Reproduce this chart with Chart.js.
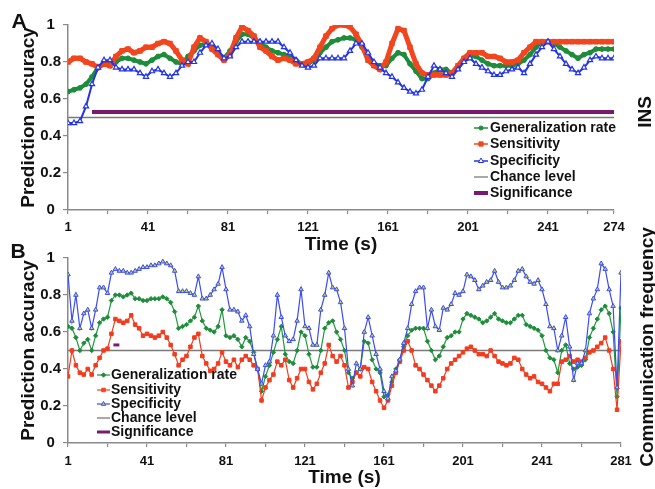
<!DOCTYPE html>
<html>
<head>
<meta charset="utf-8">
<title>Prediction accuracy over time</title>
<script src="https://cdn.jsdelivr.net/npm/chart.js@4.4.1/dist/chart.umd.min.js"></script>
<style>
  body { margin: 0; background: #fff; width: 655px; height: 489px; overflow: hidden; position: relative;
         font-family: Arial, "Liberation Sans", Helvetica, sans-serif; }
  canvas { position: absolute; left: 0; }
  #chartA { top: 0; }
  #chartB { top: 240px; }
  .lbl { position: absolute; font-weight: bold; color: #111; white-space: nowrap; transform: translate(-50%, -50%); }
  .rot { transform: translate(-50%, -50%) rotate(-90deg); }
</style>
</head>
<body>
<canvas id="chartA" width="655" height="256"></canvas>
<canvas id="chartB" width="655" height="249"></canvas>
<div class="lbl" style="left:19px;top:21px;font-size:21px">A</div>
<div class="lbl" style="left:18px;top:251px;font-size:21px">B</div>
<div class="lbl rot" style="left:645px;top:112px;font-size:19px">INS</div>
<div class="lbl rot" style="left:647px;top:347px;font-size:19px">Communication frequency</div>

<script>
// ---- data: panel A (INS) ----
const timeA = [1,4,7,10,13,16,19,22,25,28, 31,34,37,40,43,46,49,52,55,58,
  61,64,67,70,73,76,79,82,85,88, 91,94,97,100,103,106,109,112,115,118,
  121,124,127,130,133,136,139,142,145,148, 151,154,157,160,163,166,169,172,175,178,
  181,184,187,190,193,196,199,202,205,208, 211,214,217,220,223,226,229,232,235,238,
  241,244,247,250,253,256,259,262,265,268, 271,274];
const generalizationA = [0.64,0.65,0.66,0.68,0.72,0.77,0.79,0.79,0.80,0.82,
  0.82,0.81,0.80,0.79,0.81,0.83,0.84,0.82,0.80,0.79, 0.83,0.86,0.89,0.90,0.88,0.85,0.82,0.86,0.91,0.95,
  0.95,0.93,0.90,0.88,0.86,0.85,0.84,0.83,0.81,0.79, 0.79,0.81,0.85,0.88,0.91,0.92,0.93,0.93,0.92,0.88,
  0.83,0.79,0.78,0.78,0.82,0.85,0.84,0.79,0.75,0.71, 0.71,0.74,0.76,0.76,0.74,0.77,0.81,0.83,0.83,0.81,
  0.79,0.78,0.78,0.78,0.78,0.79,0.81,0.84,0.88,0.91, 0.91,0.90,0.88,0.86,0.84,0.82,0.84,0.85,0.87,0.87,
  0.87,0.87];
const sensitivityA = [0.80,0.82,0.82,0.80,0.79,0.77,0.79,0.78,0.83,0.86,
  0.87,0.85,0.86,0.88,0.88,0.90,0.91,0.90,0.86,0.81, 0.79,0.88,0.93,0.91,0.87,0.84,0.81,0.84,0.93,0.99,
  0.97,0.94,0.88,0.86,0.83,0.81,0.82,0.81,0.79,0.79, 0.80,0.82,0.88,0.94,0.98,1.00,1.00,0.99,0.95,0.89,
  0.81,0.78,0.76,0.80,0.90,0.98,0.97,0.88,0.79,0.74, 0.73,0.73,0.73,0.73,0.74,0.78,0.82,0.85,0.85,0.85,
  0.83,0.83,0.82,0.80,0.80,0.81,0.85,0.88,0.91,0.91, 0.91,0.91,0.91,0.91,0.91,0.91,0.91,0.91,0.91,0.91,
  0.91,0.91];
const specificityA = [0.47,0.47,0.48,0.56,0.68,0.77,0.81,0.81,0.77,0.76,
  0.76,0.76,0.74,0.72,0.75,0.76,0.74,0.72,0.74,0.78, 0.80,0.80,0.85,0.89,0.90,0.87,0.82,0.83,0.88,0.91,
  0.91,0.91,0.91,0.91,0.91,0.91,0.88,0.85,0.81,0.78, 0.77,0.78,0.82,0.82,0.82,0.82,0.82,0.86,0.90,0.90,
  0.85,0.80,0.77,0.74,0.72,0.69,0.66,0.64,0.63,0.65, 0.72,0.78,0.76,0.74,0.72,0.76,0.80,0.82,0.79,0.77,
  0.75,0.73,0.73,0.75,0.76,0.77,0.74,0.79,0.84,0.88, 0.91,0.87,0.83,0.79,0.76,0.74,0.77,0.81,0.83,0.82,
  0.82,0.82];
const chanceTimeA = [1, 274];
const chanceA = [0.5, 0.5];
const significanceTimeA = [13, 274];
const significanceA = [0.53, 0.53];
const tickValsA = [1,21,41,61,81,101,121,141,161,181,201,221,241,261,274];
const tickLabelsA = ['1','','41','','81','','121','','161','','201','','241','','274'];

// ---- data: panel B (communication frequency) ----
const timeB = [1,3,5,7,9,11,13,15,17,19, 21,23,25,27,29,31,33,35,37,39,
  41,43,45,47,49,51,53,55,57,59, 61,63,65,67,69,71,73,75,77,79,
  81,83,85,87,89,91,93,95,97,99, 101,103,105,107,109,111,113,115,117,119,
  121,123,125,127,129,131,133,135,137,139, 141,143,145,147,149,151,153,155,157,159,
  161,163,165,167,169,171,173,175,177,179, 181,183,185,187,189,191,193,195,197,199,
  201,203,205,207,209,211,213,215,217,219, 221,223,225,227,229,231,233,235,237,239,
  241,243,245,247,249,251,253,255,257,259, 261,263,265,267,269,271,273,275,277,279, 281];
const generalizationB = [0.63,0.62,0.57,0.50,0.54,0.56,0.50,0.58,0.65,0.67,
  0.68,0.77,0.80,0.80,0.79,0.80,0.81,0.78,0.78,0.77, 0.77,0.78,0.78,0.78,0.79,0.78,0.76,0.71,0.62,0.63,
  0.64,0.66,0.68,0.74,0.66,0.62,0.61,0.60,0.63,0.72, 0.58,0.57,0.58,0.56,0.52,0.57,0.55,0.49,0.40,0.28,
  0.36,0.42,0.49,0.56,0.63,0.48,0.44,0.43,0.50,0.60, 0.58,0.48,0.41,0.41,0.50,0.62,0.65,0.66,0.60,0.56,
  0.50,0.38,0.35,0.38,0.40,0.55,0.54,0.45,0.40,0.38, 0.25,0.26,0.33,0.40,0.45,0.52,0.58,0.61,0.62,0.62,
  0.62,0.55,0.50,0.45,0.47,0.52,0.57,0.58,0.60,0.60, 0.67,0.70,0.69,0.68,0.67,0.65,0.66,0.68,0.70,0.67,
  0.66,0.65,0.65,0.67,0.69,0.69,0.64,0.63,0.62,0.61, 0.58,0.50,0.46,0.45,0.38,0.50,0.53,0.43,0.40,0.41,
  0.42,0.45,0.57,0.62,0.67,0.72,0.74,0.70,0.60,0.25, 0.73];
const sensitivityB = [0.36,0.50,0.42,0.38,0.37,0.40,0.37,0.42,0.46,0.50,
  0.51,0.59,0.67,0.66,0.65,0.66,0.69,0.64,0.62,0.58, 0.59,0.58,0.57,0.58,0.60,0.57,0.53,0.48,0.42,0.45,
  0.47,0.52,0.57,0.59,0.47,0.43,0.39,0.40,0.43,0.49, 0.44,0.42,0.45,0.41,0.45,0.47,0.45,0.42,0.40,0.23,
  0.30,0.34,0.37,0.44,0.42,0.45,0.34,0.30,0.35,0.40, 0.40,0.33,0.29,0.32,0.38,0.43,0.53,0.47,0.44,0.47,
  0.42,0.30,0.33,0.38,0.36,0.41,0.40,0.33,0.28,0.23, 0.19,0.23,0.31,0.38,0.44,0.50,0.55,0.50,0.42,0.40,
  0.37,0.34,0.31,0.28,0.31,0.35,0.40,0.43,0.45,0.47, 0.49,0.51,0.52,0.50,0.48,0.48,0.47,0.50,0.47,0.44,
  0.43,0.42,0.43,0.46,0.45,0.40,0.37,0.35,0.36,0.33, 0.32,0.30,0.28,0.32,0.32,0.44,0.45,0.47,0.44,0.45,
  0.44,0.46,0.49,0.50,0.52,0.54,0.57,0.50,0.40,0.18, 0.55];
const specificityB = [0.91,0.66,0.80,0.62,0.70,0.72,0.62,0.72,0.84,0.84,
  0.81,0.92,0.94,0.93,0.93,0.92,0.92,0.93,0.94,0.95, 0.95,0.96,0.96,0.97,0.98,0.97,0.96,0.93,0.82,0.82,
  0.82,0.81,0.80,0.90,0.78,0.78,0.80,0.83,0.86,0.95, 0.83,0.72,0.72,0.71,0.66,0.69,0.63,0.48,0.40,0.32,
  0.42,0.44,0.58,0.80,0.68,0.58,0.55,0.56,0.66,0.83, 0.63,0.62,0.53,0.53,0.72,0.80,0.92,0.84,0.83,0.76,
  0.62,0.40,0.31,0.43,0.40,0.60,0.68,0.58,0.48,0.40, 0.28,0.24,0.36,0.39,0.45,0.54,0.62,0.75,0.82,0.84,
  0.84,0.62,0.72,0.63,0.61,0.73,0.72,0.75,0.81,0.80, 0.82,0.91,0.90,0.88,0.83,0.85,0.87,0.88,0.93,0.87,
  0.84,0.84,0.85,0.88,0.93,0.94,0.90,0.87,0.86,0.88, 0.83,0.75,0.63,0.62,0.50,0.58,0.68,0.52,0.34,0.43,
  0.43,0.50,0.70,0.78,0.83,0.97,0.94,0.83,0.74,0.30, 0.92];
const chanceTimeB = [1, 281];
const chanceB = [0.5, 0.5];
const significanceTimeB = [24, 27];
const significanceB = [0.53, 0.53];
const tickValsB = [1,21,41,61,81,101,121,141,161,181,201,221,241,261,281];
const tickLabelsB = ['1','','41','','81','','121','','161','','201','','241','','281'];

// ---- shared ----
const yTickVals = [0, 0.2, 0.4, 0.6, 0.8, 1];
const yTickLabels = ['0', '0.2', '0.4', '0.6', '0.8', '1'];
const legendLabels = ['Generalization rate', 'Sensitivity', 'Specificity', 'Chance level', 'Significance'];

const FONT = 'Arial, "Liberation Sans", Helvetica, sans-serif';
const INK = '#111';
const AXIS = '#8a8a8a';
const GREEN = '#1f8c3b', RED = '#f2461e', BLUE = '#2233e6', GREY = '#7a7a7a', PURPLE = '#7b1870';

Chart.defaults.font.family = FONT;

function xy(ts, vs) { return ts.map((t, i) => ({ x: t, y: vs[i] })); }

// draws the legend box at fixed spots, like the original figure
const manualLegend = {
  id: 'manualLegend',
  afterDraw(chart, args, o) {
    const ctx = chart.ctx;
    ctx.save();
    ctx.font = 'bold 14px ' + FONT;
    ctx.textBaseline = 'middle';
    ctx.textAlign = 'left';
    o.items.forEach((it, i) => {
      const y = o.ys[i];
      ctx.strokeStyle = it.color;
      ctx.lineWidth = it.lw;
      ctx.beginPath(); ctx.moveTo(o.x0, y); ctx.lineTo(o.x1, y); ctx.stroke();
      if (it.style) {
        ctx.fillStyle = it.fill; ctx.strokeStyle = it.color; ctx.lineWidth = 1;
        Chart.helpers.drawPoint(ctx, { pointStyle: it.style, radius: it.r, borderWidth: 1, rotation: 0 }, (o.x0 + o.x1) / 2, y);
      }
      ctx.fillStyle = INK;
      ctx.fillText(legendLabels[i], o.tx, y);
    });
    ctx.restore();
  }
};

function makeChart(id, cfg) {
  return new Chart(document.getElementById(id), {
    type: 'line',
    data: { datasets: cfg.datasets },
    options: {
      responsive: false,
      animation: false,
      events: [],
      layout: { padding: { top: cfg.top, right: cfg.right, left: 0, bottom: 0 } },
      elements: { line: { tension: 0 } },
      scales: {
        x: {
          type: 'linear', min: cfg.min, max: cfg.max,
          afterFit: s => { s.height = cfg.xh; },
          afterBuildTicks: s => { s.ticks = cfg.tickVals.map(v => ({ value: v })); },
          ticks: { autoSkip: false, maxRotation: 0, padding: cfg.xpad, color: INK,
                   font: { size: 13, weight: 'bold' }, callback: (v, i) => cfg.tickLabels[i] },
          grid: { drawOnChartArea: false, tickLength: 4, color: AXIS, lineWidth: 1.2 },
          border: { color: AXIS, width: 1.5 },
          title: { display: true, text: 'Time (s)', color: INK, font: { size: 19, weight: 'bold' },
                   padding: { top: 0, bottom: 0 } }
        },
        y: {
          min: 0, max: 1,
          afterFit: s => { s.width = 68; },
          afterBuildTicks: s => { s.ticks = yTickVals.map(v => ({ value: v })); },
          ticks: { padding: 2, crossAlign: 'center', color: INK, font: { size: 15, weight: 'bold' },
                   callback: (v, i) => yTickLabels[i] },
          grid: { drawOnChartArea: false, tickLength: 5, color: AXIS, lineWidth: 1.2 },
          border: { color: AXIS, width: 1.5 },
          title: { display: true, text: 'Prediction accuracy', color: INK, font: { size: 19, weight: 'bold' },
                   padding: { top: 17, bottom: 0 } }
        }
      },
      plugins: {
        legend: { display: false },
        tooltip: { enabled: false },
        manualLegend: cfg.legend
      }
    },
    plugins: [manualLegend]
  });
}

// panel A: heavy marker bands
makeChart('chartA', {
  top: 25, right: 41, xh: 46, xpad: 6, min: 1, max: 274,
  tickVals: tickValsA, tickLabels: tickLabelsA,
  datasets: [
    { label: 'Specificity', data: xy(timeA, specificityA), borderColor: BLUE, borderWidth: 2,
      pointStyle: 'triangle', pointRadius: 3, pointBackgroundColor: '#fff', pointBorderColor: BLUE, pointBorderWidth: 1.2 },
    { label: 'Sensitivity', data: xy(timeA, sensitivityA), borderColor: RED, borderWidth: 5,
      pointStyle: 'rect', pointRadius: 3.2, pointBackgroundColor: RED, pointBorderColor: RED, pointBorderWidth: 1 },
    { label: 'Generalization rate', data: xy(timeA, generalizationA), borderColor: GREEN, borderWidth: 4,
      pointStyle: 'circle', pointRadius: 2.4, pointBackgroundColor: GREEN, pointBorderColor: GREEN, pointBorderWidth: 1 },
    { label: 'Significance', data: xy(significanceTimeA, significanceA), borderColor: PURPLE, borderWidth: 4, pointRadius: 0 },
    { label: 'Chance level', data: xy(chanceTimeA, chanceA), borderColor: GREY, borderWidth: 1.3, pointRadius: 0 }
  ],
  legend: {
    x0: 474, x1: 488, tx: 490, ys: [128, 144, 161, 177, 193],
    items: [
      { color: GREEN, lw: 1.5, style: 'circle', r: 2, fill: GREEN },
      { color: RED, lw: 1.5, style: 'rect', r: 3, fill: RED },
      { color: BLUE, lw: 1.5, style: 'triangle', r: 3, fill: '#fff' },
      { color: GREY, lw: 1.3 },
      { color: PURPLE, lw: 4 }
    ]
  }
});

// panel B: thin lines with individual markers
makeChart('chartB', {
  top: 18, right: 34, xh: 46, xpad: 7, min: 1, max: 281,
  tickVals: tickValsB, tickLabels: tickLabelsB,
  datasets: [
    { label: 'Specificity', data: xy(timeB, specificityB), borderColor: '#3a4cf2', borderWidth: 1.2,
      pointStyle: 'triangle', pointRadius: 2.6, pointBackgroundColor: '#c4d25e', pointBorderColor: '#3a4cf2', pointBorderWidth: 1 },
    { label: 'Sensitivity', data: xy(timeB, sensitivityB), borderColor: '#f23c1e', borderWidth: 1.2,
      pointStyle: 'rect', pointRadius: 2.5, pointBackgroundColor: '#f23c1e', pointBorderColor: '#f23c1e', pointBorderWidth: 1 },
    { label: 'Generalization rate', data: xy(timeB, generalizationB), borderColor: '#1f9a3f', borderWidth: 1.2,
      pointStyle: 'rectRot', pointRadius: 2.2, pointBackgroundColor: '#1f8c3b', pointBorderColor: '#1f8c3b', pointBorderWidth: 1 },
    { label: 'Significance', data: xy(significanceTimeB, significanceB), borderColor: PURPLE, borderWidth: 3, pointRadius: 0 },
    { label: 'Chance level', data: xy(chanceTimeB, chanceB), borderColor: GREY, borderWidth: 1.3, pointRadius: 0 }
  ],
  legend: {
    x0: 97, x1: 110, tx: 111, ys: [135, 150, 164, 178, 192],
    items: [
      { color: GREEN, lw: 1.2, style: 'rectRot', r: 2.2, fill: GREEN },
      { color: RED, lw: 1.2, style: 'rect', r: 2.5, fill: RED },
      { color: '#3a4cf2', lw: 1.2, style: 'triangle', r: 2.6, fill: '#c4d25e' },
      { color: GREY, lw: 1.3 },
      { color: PURPLE, lw: 3 }
    ]
  }
});
</script>
</body>
</html>
